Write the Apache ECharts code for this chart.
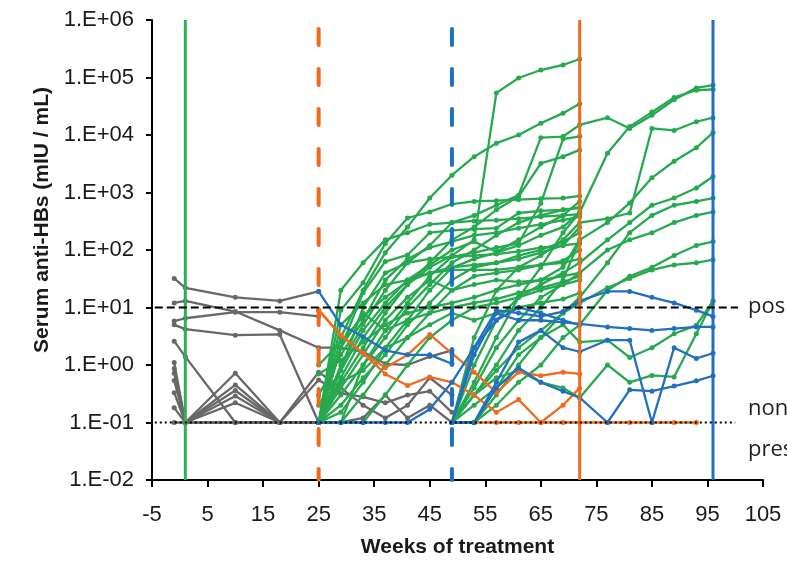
<!DOCTYPE html>
<html>
<head>
<meta charset="utf-8">
<script src="https://cdn.jsdelivr.net/npm/echarts@6/dist/echarts.min.js"></script>
<style>
  html, body { margin: 0; padding: 0; background: #fff; }
  #chart { width: 787px; height: 563px; }
</style>
</head>
<body>
<div id="chart"></div>
<script>
// sampling weeks
var weeks = [-1, 1, 10, 18, 25, 29, 33, 37, 41, 45, 49, 53, 57, 61, 65, 69, 72, 77, 81, 85, 89, 93, 96];

// each line: first entry = week of first sample, then anti-HBs values (mIU/mL)
var grayLines = [
  [-1, 32, 22, 15, 13, 19],
  [-1, 12, 13, 8.5, 4, 2, 2, 1.7, 1.05, 1.0, 1.4, 1.8],
  [-1, 5.8, 6.5, 8.3, 8.3, 7],
  [-1, 5, 4.2, 3.3, 3.4, 0.1],
  [-1, 2.6, 1.4, 0.1, 0.1, 0.1],
  [-1, 1.1, 0.1, 0.72, 0.1, 0.75, 0.4, 0.2, 0.12, 0.2, 0.6, 0.3],
  [-1, 0.87, 0.1, 0.45, 0.1, 0.55, 0.32, 0.28, 0.22, 0.3, 0.35, 0.15],
  [-1, 0.72, 0.1, 0.36, 0.1, 0.1],
  [-1, 0.54, 0.1, 0.29, 0.1, 0.1],
  [-1, 0.33, 0.1, 0.22, 0.1, 0.1],
  [-1, 0.18, 0.1, 0.1, 0.1, 0.1],
  [-1, 0.1, 0.1, 0.1, 0.1, 0.1, 0.1, 0.12, 0.3, 0.12, 0.2, 0.1]
];

var greenLines = [
  [25, 0.1, 0.6, 3, 10, 25, 50, 80, 150, 54000, 98000, 135000, 165000, 210000],
  [25, 0.1, 3, 20, 90, 250, 800, 2000, 4200, 7200, 10000, 16000, 24000, 35000],
  [25, 0.1, 9, 27, 130, 360, 460, 630, 700, 720, 750, 780, 800, 870],
  [25, 0.1, 2, 18, 63, 82, 200, 220, 230, 240, 440, 480, 500, 550],
  [25, 0.1, 1, 5, 20, 60, 120, 300, 400, 600, 900, 9000, 9400, 15000, 20000, 13000, 22000, 41000, 66000, 74000],
  [25, 0.1, 0.5, 2, 8, 25, 60, 150, 250, 500, 850, 3200, 4200, 5500],
  [25, 0.1, 0.3, 1, 4, 12, 35, 76, 90, 110, 130, 650, 8500, 9500],
  [25, 0.1, 0.15, 0.5, 2, 6, 20, 49, 70, 90, 120, 180, 250, 460],
  [25, 0.2, 0.8, 4, 12, 30, 55, 100, 140, 93, 150, 250, 400, 700],
  [25, 0.1, 0.2, 0.6, 1.5, 5, 12, 30, 50, 60, 80, 100, 140, 200],
  [25, 1.0, 2.5, 7, 15, 28, 40, 45, 45, 45, 50, 55, 60, 70],
  [25, 0.1, 0.1, 0.3, 1, 3, 8, 20, 35, 40, 45, 55, 65, 100],
  [25, 0.1, 0.4, 1.5, 6, 15, 30, 20, 25, 30, 28, 30, 35, 40],
  [25, 0.7, 1.2, 2.5, 5, 8, 10, 12, 15, 20, 25, 30, 50, 150],
  [25, 0.1, 0.1, 0.1, 0.3, 1, 3, 6, 10, 12, 15, 20, 25, 30],
  [25, 0.1, 20, 60, 150, 200, 280, 300, 320, 330, 350, 380, 400, 420],
  [25, 0.1, 5, 12, 25, 30, 40, 50, 55, 60, 70, 90, 120, 250],
  [25, 0.3, 1.5, 6, 30, 70, 110, 140, 180, 200, 240, 280, 330, 380],
  [25, 0.1, 0.8, 10, 40, 60, 70, 76, 80, 85, 95, 110, 120, 130],
  [25, 0.1, 0.1, 1, 3, 10, 25, 60, 100, 180, 300, 400, 500, 540],
  [25, 0.1, 2, 8, 4, 6, 8, 10, 12, 14, 18, 22, 28, 35],
  [25, 0.1, 0.5, 0.8, 2, 3, 5, 8, 6, 8, 10, 12, 14, 18],
  [49, 0.1, 0.5, 3, 15, 50, 200, 450, 4800, 14000, 25000, 45000, 60000, 62000],
  [49, 0.1, 3, 20, 50, 80, 150, 300, 350, 440, 13000, 12000, 17000, 20000],
  [49, 0.1, 0.3, 1, 4, 10, 30, 150, 300, 660, 1800, 3500, 6000, 11000],
  [49, 0.1, 1, 6, 15, 25, 40, 60, 150, 300, 600, 800, 1200, 1900],
  [49, 0.1, 0.1, 0.3, 1, 3, 8, 15, 60, 200, 400, 600, 700, 800],
  [49, 0.1, 0.4, 2, 6, 15, 25, 40, 100, 150, 200, 300, 400, 460],
  [49, 0.1, 0.1, 0.2, 0.5, 1, 3, 5, 20, 35, 50, 80, 120, 140],
  [49, 0.1, 0.3, 0.8, 2, 4, 8, 12, 22, 32, 45, 55, 60, 68],
  [49, 0.1, 0.2, 0.4, 1.5, 3, 5, 2.5, 2.7, 1.35, 2.0, 3.5, 4.9, 13],
  [49, 0.1, 0.3, 0.6, 0.8, 0.5, 0.4, 0.27, 1.0, 0.5, 0.66, 0.62, 3.5, 13]
];

var blueLines = [
  [25, 19, 5, 3.1, 1.8, 1.5, 1.5, 1.05],
  [25, 0.1, 0.1, 0.1, 0.1, 0.1, 0.17, 0.5, 2, 6, 10, 8, 6, 5],
  [49, 0.1, 2, 9, 8, 7, 8.5, 13, 19, 19, 15, 12, 9, 7],
  [49, 0.1, 1.5, 8, 6, 6, 5.5, 5.2, 4.6, 4.3, 4.0, 4.3, 4.6, 4.6],
  [49, 0.1, 0.1, 0.5, 2.5, 4, 2, 1.7, 2.7, 2.7, 0.1, 2.0, 1.3, 1.6],
  [49, 0.1, 0.1, 0.4, 0.9, 0.5, 0.35, 0.27, 0.1, 0.37, 0.35, 0.43, 0.53, 0.65]
];

var orangeLines = [
  [25, 9, 3.3, 1.6, 0.7, 0.44, 0.62, 0.5, 0.3, 0.15, 0.25, 0.1, 0.2, 0.4],
  [25, 9, 3.3, 1.6, 0.9, 1.5, 3.4, 1.6, 0.75, 0.33, 0.75, 0.65, 0.75, 0.7],
  [49, 0.1, 0.1, 0.1, 0.1, 0.1, 0.1, 0.1, 0.1, 0.1, 0.1, 0.1, 0.1]
];

// vertical markers: week, colour, dashed?
var stopWeeks = [1, 25, 49, 72, 96];
var stopColors = ['#2db34c', '#f06a1c', '#1f70c1', '#f06a1c', '#1f70c1'];
var stopDashed = [false, true, true, false, false];

// horizontal cut-offs
var cutoffs = [10, 0.1];
var cutoffLabels = ['pos', 'non', 'pres'];

// x axis is shifted so its min (-5) sits on 0 and ticks fall every 10
var xShift = 5;

var GREEN = '#26a94f', GRAY = '#686868', BLUE = '#2170c0', ORANGE = '#ee6b20';

function lineSeries(lines, color, z) {
  return lines.map(function (l) {
    var start = weeks.indexOf(l[0]);
    var data = l.slice(1).map(function (v, i) { return [weeks[start + i] + xShift, v]; });
    return {
      type: 'line', data: data, z: z, silent: true,
      symbol: 'circle', symbolSize: 5, showSymbol: true,
      lineStyle: { color: color, width: 2.3 },
      itemStyle: { color: color }
    };
  });
}

var series = []
  .concat(lineSeries(grayLines, GRAY, 2))
  .concat(lineSeries(greenLines, GREEN, 3))
  .concat(lineSeries(orangeLines, ORANGE, 4))
  .concat(lineSeries(blueLines, BLUE, 5));

stopWeeks.forEach(function (w, i) {
  series.push({
    type: 'line', silent: true, z: 8, symbol: 'none',
    data: [[w + xShift, 1e6], [w + xShift, 0.01]],
    lineStyle: stopDashed[i]
      ? { color: stopColors[i], width: 4, type: [16, 24], dashOffset: 31, cap: 'round' }
      : { color: stopColors[i], width: 3 }
  });
});

series.push({
  type: 'line', silent: true, z: 9, symbol: 'none',
  data: [[0.5, cutoffs[0]], [105.5, cutoffs[0]]],
  lineStyle: { color: '#000', width: 2, type: [8, 4] }
});
series.push({
  type: 'line', silent: true, z: 9, symbol: 'none',
  data: [[0.5, cutoffs[1]], [105, cutoffs[1]]],
  lineStyle: { color: '#000', width: 2, type: [2, 3] }
});

var labelFont = { fontFamily: '"Liberation Sans", Arial, sans-serif', fontSize: 22, color: '#1a1a1a' };

var chart = echarts.init(document.getElementById('chart'));
chart.setOption({
  animation: false,
  backgroundColor: '#fff',
  grid: { left: 152, right: 24, top: 20, bottom: 83, containLabel: false, outerBoundsMode: 'none' },
  xAxis: {
    type: 'value', min: 0, max: 110, interval: 10,
    name: 'Weeks of treatment', nameLocation: 'middle', nameGap: 57,
    nameTextStyle: { fontFamily: '"Liberation Sans", Arial, sans-serif', fontSize: 21, fontWeight: 'bold', color: '#1a1a1a' },
    axisLine: { show: true, onZero: false, lineStyle: { color: '#000', width: 2 } },
    axisTick: { show: true, length: 7, lineStyle: { color: '#000', width: 2 } },
    axisLabel: Object.assign({ margin: 24, formatter: function (v) { return String(v - xShift); } }, labelFont),
    splitLine: { show: false }
  },
  yAxis: {
    type: 'log', logBase: 10, min: 0.01, max: 1e6,
    axisLine: { show: true, lineStyle: { color: '#000', width: 2 } },
    axisTick: { show: true, length: 6, lineStyle: { color: '#000', width: 2 } },
    axisLabel: Object.assign({
      margin: 18,
      formatter: function (v) {
        var e = Math.round(Math.log10(v));
        return '1.E' + (e < 0 ? '-' : '+') + (Math.abs(e) < 10 ? '0' : '') + Math.abs(e);
      }
    }, labelFont),
    splitLine: { show: false }
  },
  graphic: [
    {
      type: 'text', x: 42, y: 220, rotation: Math.PI / 2,
      style: { text: 'Serum anti-HBs (mIU / mL)', font: 'bold 21px "Liberation Sans", Arial, sans-serif', fill: '#1a1a1a', align: 'center', verticalAlign: 'middle' }
    },
    { type: 'text', x: 748, y: 307, style: { text: cutoffLabels[0], font: '22px "Open Sans", sans-serif', fill: '#222', verticalAlign: 'middle' } },
    { type: 'text', x: 748, y: 409, style: { text: cutoffLabels[1], font: '22px "Open Sans", sans-serif', fill: '#222', verticalAlign: 'middle' } },
    { type: 'text', x: 748, y: 450, style: { text: cutoffLabels[2], font: '22px "Open Sans", sans-serif', fill: '#222', verticalAlign: 'middle' } }
  ],
  series: series
});
</script>
</body>
</html>
